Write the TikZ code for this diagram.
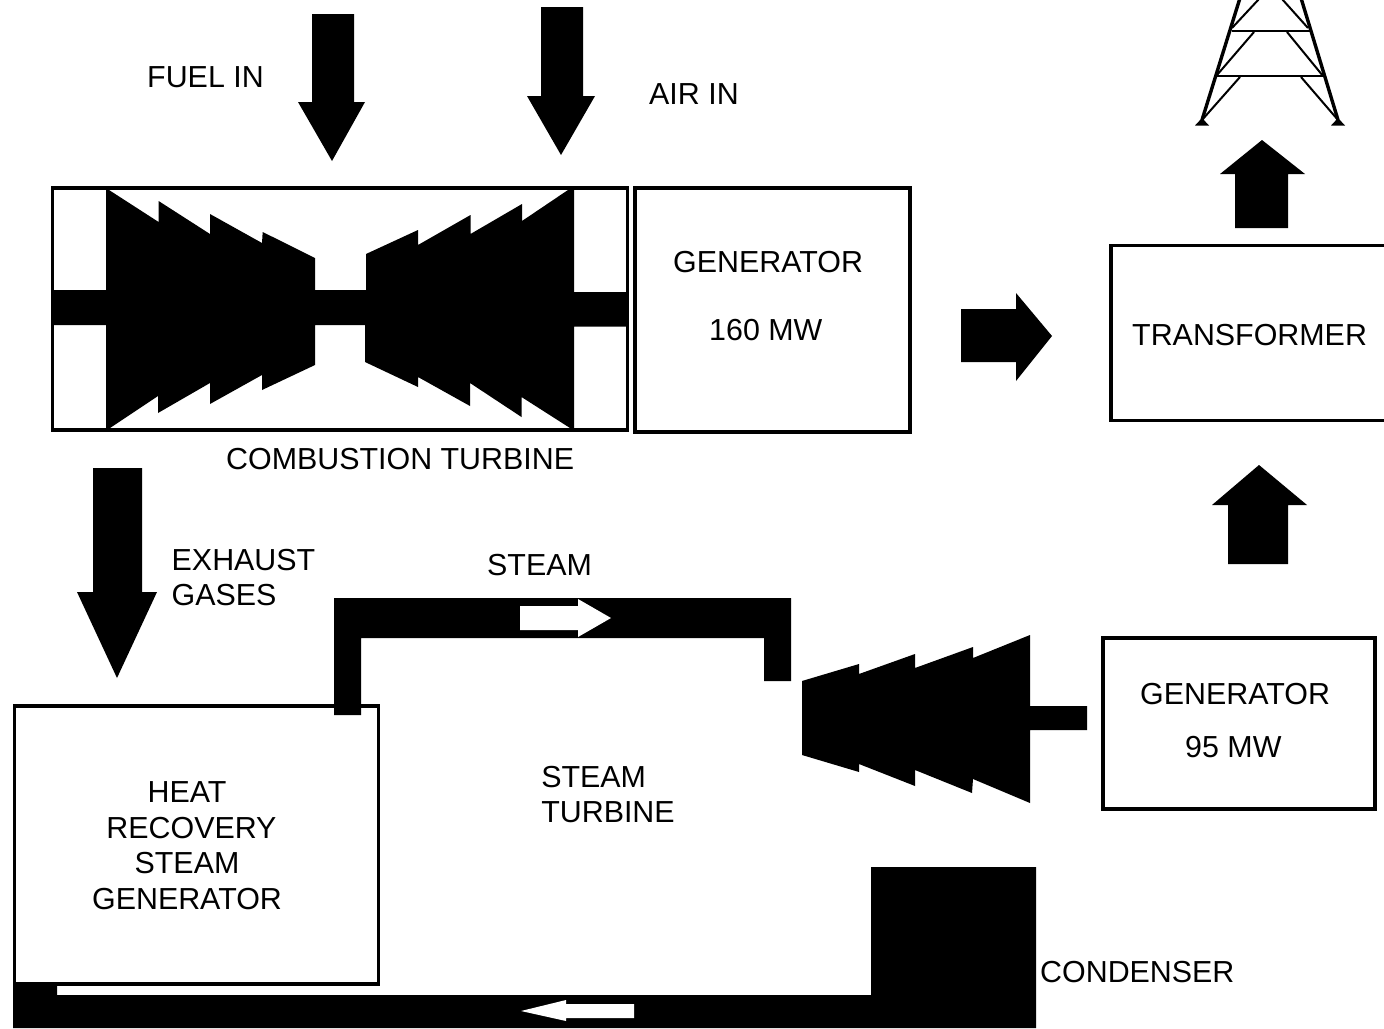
\documentclass[tikz,border=0pt]{standalone}
\usepackage{fontspec}
\setmainfont{Liberation Sans}
\begin{document}
\begin{tikzpicture}[x=1pt,y=-1pt,
  box/.style={draw=black,line width=3.6pt,fill=white,inner sep=0pt,outer sep=0pt,anchor=north west},
  solid part/.style={fill=black,draw=none},
  white part/.style={fill=white,draw=none},
  lbl/.style={font=\fontsize{30.4}{35.5}\selectfont,text=black,inner sep=0pt,anchor=base west},
  blocklbl/.style={font=\fontsize{30.4}{35.5}\selectfont,text=black,inner sep=0pt},
  towerleg/.style={draw=black,line width=3.4pt},
  towerbar/.style={draw=black,line width=2pt}]
\useasboundingbox (0,0) rectangle (1384,1028);
\fill[white] (0,0) rectangle (1384,1028);
% boxes
\node[box,minimum width=575pt,minimum height=242pt] (ct) at (52.5,188) {};
\node[box,minimum width=275pt,minimum height=244pt] (gena) at (635,188) {};
\node[box,minimum width=290pt,minimum height=175pt] (trans) at (1111,245.5) {};
\node[box,minimum width=272pt,minimum height=171pt] (genb) at (1103,638) {};
\node[box,minimum width=364pt,minimum height=278pt] (hrsg) at (14.5,706) {};
% combustion turbine
\fill[solid part] (106,190) -- (109,190) -- (158.6,222) -- (158.6,201) -- (210,234) -- (210,214) -- (262,243) -- (262.7,232) -- (315,258) -- (315,290)
  -- (366,290) -- (366,254) -- (418,230) -- (418,245) -- (470.5,215) -- (470.5,234) -- (522,204) -- (522,221) -- (568,190) -- (574,190)
  -- (574,292) -- (628,292) -- (628,326.5) -- (574,326.5) -- (574,428) -- (570,428) -- (521.5,397) -- (521.5,417) -- (470,383) -- (470,406) -- (418,377) -- (418,387) -- (365,362) -- (365,325)
  -- (315,325) -- (315,365) -- (262,390) -- (262,375) -- (210,404) -- (210,383) -- (158,413) -- (158,396) -- (110,428) -- (106,428) -- (106,325) -- (51,325) -- (51,290) -- (106,290) -- cycle;
% steam turbine
\fill[solid part] (802,681) -- (859,664) -- (859,674) -- (915,654) -- (915,668) -- (973,647) -- (973,658) -- (1030,635) -- (1030,706) -- (1087,706) -- (1087,730) -- (1030,730) -- (1030,803) -- (973,779) -- (972,793) -- (915,770) -- (915,786) -- (859,764) -- (859,772) -- (802,755) -- cycle;
% block arrows
\fill[solid part] (312,14) -- (354,14) -- (354,102) -- (365,102) -- (332,161) -- (298,102) -- (312,102) -- cycle;
\fill[solid part] (541,7) -- (583,7) -- (583,96) -- (595,96) -- (561,155) -- (527,96) -- (541,96) -- cycle;
\fill[solid part] (961,309) -- (1016,309) -- (1016,293) -- (1052,336) -- (1016,381) -- (1016,362) -- (961,362) -- cycle;
\fill[solid part] (1235,228) -- (1235,174) -- (1220,174) -- (1262,140) -- (1305,174) -- (1288,174) -- (1288,228) -- cycle;
\fill[solid part] (1228,564) -- (1228,505) -- (1212,505) -- (1259,465) -- (1307,505) -- (1288,505) -- (1288,564) -- cycle;
\fill[solid part] (93,468) -- (142,468) -- (142,592) -- (157,592) -- (117,678) -- (77,592) -- (93,592) -- cycle;
% steam pipe
\fill[solid part] (334,715) -- (334,598) -- (791,598) -- (791,681) -- (764,681) -- (764,638) -- (361,638) -- (361,715) -- cycle;
\fill[white part] (520,606) -- (578,606) -- (578,599) -- (611,618) -- (578,637) -- (578,630) -- (520,630) -- cycle;
% condenser and return pipe
\fill[solid part] (871,867) -- (1036,867) -- (1036,1028) -- (13,1028) -- (13,985) -- (57,985) -- (57,995) -- (871,995) -- cycle;
\fill[white part] (634,1004) -- (566,1004) -- (566,1000) -- (521,1011) -- (566,1021) -- (566,1018) -- (634,1018) -- cycle;
% tower
\draw[towerleg] (1240,-2) -- (1202,120);
\draw[towerleg] (1301,-2) -- (1338,120);
\draw[towerbar] (1232,31) -- (1310,31);
\draw[towerbar] (1217,76) -- (1323,76);
\draw[towerbar] (1202,120) -- (1240,77);
\draw[towerbar] (1338,120) -- (1301,77);
\draw[towerbar] (1217,75) -- (1254,32);
\draw[towerbar] (1323,76) -- (1287,32);
\draw[towerbar] (1232,28) -- (1259,-1);
\draw[towerbar] (1308,28) -- (1282,-1);
\fill[solid part] (1195,125.5) -- (1202,118) -- (1209,125.5) -- cycle;
\fill[solid part] (1331,125.5) -- (1338,118) -- (1345,125.5) -- cycle;
% labels
\node[lbl] (fuel) at (147,87.5) {FUEL IN};
\node[lbl] (air) at (649,104.5) {AIR IN};
\node[lbl] (gentext) at (673,272.5) {GENERATOR};
\node[lbl] (mwa) at (709,340) {160 MW};
\node[lbl] (transtext) at (1132,345.5) {TRANSFORMER};
\node[lbl] (cttext) at (226,469.5) {COMBUSTION TURBINE};
\node[blocklbl,align=left,anchor=center] (exh) at (243.5,577.5) {EXHAUST\\GASES};
\node[lbl] (steam) at (487,575.5) {STEAM};
\node[lbl] (genbtext) at (1140,704.5) {GENERATOR};
\node[lbl] (mwb) at (1185,757.5) {95 MW};
\node[blocklbl,align=center,anchor=center] (hrsgtext) at (187,845.5) {HEAT\\\hspace*{9pt}RECOVERY\\STEAM\\GENERATOR};
\node[blocklbl,align=left,anchor=center] (sttext) at (608,794.5) {STEAM\\TURBINE};
\node[lbl] (cond) at (1040,982.5) {CONDENSER};
\end{tikzpicture}
\end{document}
